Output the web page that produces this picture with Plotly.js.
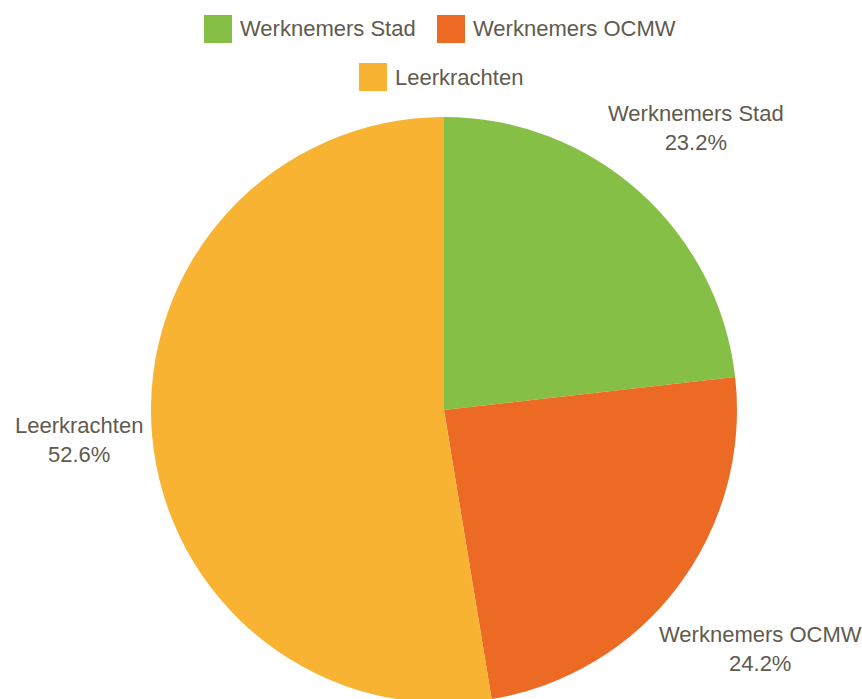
<!DOCTYPE html>
<html>
<head>
<meta charset="utf-8">
<script src="https://cdn.plot.ly/plotly-3.0.1.min.js"></script>
<style>
html,body{margin:0;padding:0;overflow:hidden;background:#fff;}
#chart{width:862px;height:703px;}
</style>
</head>
<body>
<div id="chart"></div>
<script>
const labels = ["Werknemers Stad", "Werknemers OCMW", "Leerkrachten"];
const values = [23.2, 24.2, 52.6];
const colors = ["#86BF45", "#EC6A24", "#F8B332"];

const textColor = "#615a4e";
const fontName = "Liberation Sans";
const fontFamily = fontName + ", Arial, sans-serif";
const fontSize = 22;

const W = 862, H = 703;
const M = {l: 144, r: 118, t: 117, b: 0};
const pw = W - M.l - M.r, ph = H - M.t - M.b;
const px2x = p => (p - M.l) / pw;
const py2y = p => (H - M.b - p) / ph;

// ---- custom legend (large square swatches) ----
const legendSwatchLeft = [204, 437, 359];
const legendRowCenter = [29, 29, 77];
const swatch = 28;

const shapes = [], annotations = [];
labels.forEach((lab, i) => {
  const x0 = legendSwatchLeft[i], yc = legendRowCenter[i];
  shapes.push({
    type: "rect", xref: "paper", yref: "paper",
    x0: px2x(x0), x1: px2x(x0 + swatch),
    y0: py2y(yc - swatch / 2), y1: py2y(yc + swatch / 2),
    fillcolor: colors[i], line: {width: 0}
  });
  annotations.push({
    xref: "paper", yref: "paper", x: px2x(x0 + swatch + 6), y: py2y(yc),
    xanchor: "left", yanchor: "middle", showarrow: false, text: lab,
    font: {family: fontFamily, size: fontSize, color: textColor}
  });
});

// ---- outside slice labels, placed just beyond the rim along each slice's mid-angle ----
const ctx = document.createElement("canvas").getContext("2d");
ctx.font = fontSize + "px '" + fontName + "'";
const total = values.reduce((a, b) => a + b, 0);
const cx = M.l + pw / 2, cy = M.t + ph / 2, R = Math.min(pw, ph) / 2;
const gap = 7, halfH = 27;
let cum = 0;
values.forEach((v, i) => {
  const frac = v / total;
  const mid = (cum + frac / 2) * 2 * Math.PI;   // clockwise from 12 o'clock
  cum += frac;
  const pct = (frac * 100).toFixed(1) + "%";
  const halfW = Math.max(ctx.measureText(labels[i]).width, ctx.measureText(pct).width) / 2;
  const ux = Math.sin(mid), uy = -Math.cos(mid);
  const ext = halfW * Math.abs(ux) + halfH * Math.abs(uy);
  const d = R + gap + ext;
  annotations.push({
    xref: "paper", yref: "paper",
    x: px2x(cx + d * ux), y: py2y(cy + d * uy),
    xanchor: "center", yanchor: "middle", align: "center", showarrow: false,
    text: labels[i] + "<br>" + pct,
    font: {family: fontFamily, size: fontSize, color: textColor}
  });
});

const trace = {
  type: "pie",
  labels: labels,
  values: values,
  sort: false,
  direction: "clockwise",
  rotation: 0,
  marker: {colors: colors, line: {width: 0}},
  textinfo: "none",
  hoverinfo: "none",
  showlegend: false
};

const layout = {
  width: W, height: H,
  margin: M,
  paper_bgcolor: "#fff",
  showlegend: false,
  shapes: shapes,
  annotations: annotations,
  font: {family: fontFamily, color: textColor}
};

Plotly.newPlot("chart", [trace], layout, {displayModeBar: false, staticPlot: true});
</script>
</body>
</html>
